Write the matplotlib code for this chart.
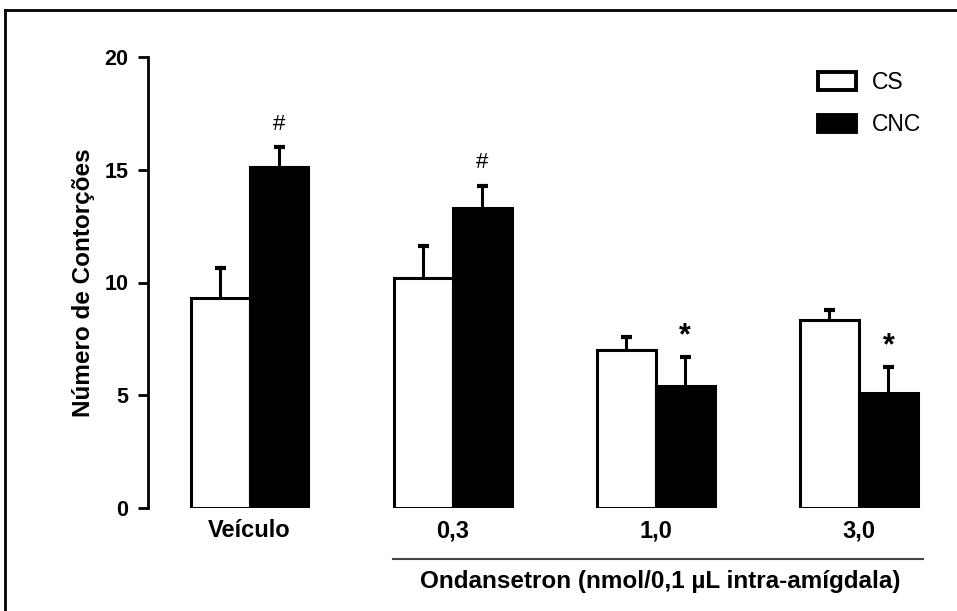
import numpy as np
import matplotlib.pyplot as plt
from matplotlib.lines import Line2D
from matplotlib.patches import Patch

plt.rcParams['font.family'] = ['Liberation Sans', 'DejaVu Sans']

groups = ['Veículo', '0,3', '1,0', '3,0']
cs_mean = np.array([9.3, 10.2, 7.0, 8.35])
cs_err = np.array([1.35, 1.4, 0.6, 0.45])
cnc_mean = np.array([15.1, 13.3, 5.4, 5.1])
cnc_err = np.array([0.9, 1.0, 1.3, 1.15])
cnc_marks = ['#', '#', '*', '*']

W = 0.29
CAP = 0.027
x = np.arange(len(groups))

fig = plt.figure(figsize=(9.57, 6.11), dpi=100)
ax = fig.add_axes([148/957, 1-508/611, (945-148)/957, (508-57)/611])

ax.bar(x - W/2, cs_mean, W, color='white', edgecolor='black', lw=2.2, zorder=2)
ax.bar(x + W/2, cnc_mean, W, color='black', edgecolor='black', lw=2.2, zorder=2)
# upper error bars only
for xc, m, e in [(x - W/2, cs_mean, cs_err), (x + W/2, cnc_mean, cnc_err)]:
    ax.vlines(xc, m, m + e, color='black', lw=2.2, zorder=1)
    ax.hlines(m + e, xc - CAP, xc + CAP, color='black', lw=3, zorder=1)

for i, m in enumerate(cnc_marks):
    top = cnc_mean[i] + cnc_err[i]
    if m == '#':
        ax.text(x[i] + W/2, top + 0.55, m, ha='center', va='bottom', fontsize=16)
    else:
        ax.text(x[i] + W/2, top + 0.25, m, ha='center', va='bottom', fontsize=22, fontweight='bold')

ax.set_xlim(-0.5, (945-250)/203)
ax.set_ylim(0, 20)
ax.set_yticks([0, 5, 10, 15, 20])
ax.set_xticks(x)
ax.set_xticklabels(groups, fontsize=17, fontweight='bold')
ax.tick_params(axis='x', length=0, pad=8)
ax.tick_params(axis='y', length=7, width=2, labelsize=15.5, pad=7)
for lbl in ax.get_yticklabels():
    lbl.set_fontweight('bold')
for s in ['top', 'right', 'bottom']:
    ax.spines[s].set_visible(False)
ax.spines['left'].set_linewidth(2)
ax.set_ylabel('Número de Contorções', fontsize=17.5, fontweight='bold', labelpad=7)

# underline for ondansetron doses
ax.plot([x[1] - W - 0.005, x[3] + W + 0.025], [-2.25, -2.25], color='#444444', lw=1.5, clip_on=False)
ax.text((x[1] + x[3]) / 2 + 0.02, -3.25, 'Ondansetron (nmol/0,1 µL intra-amígdala)',
        ha='center', va='center', fontsize=17.5, fontweight='bold', clip_on=False)

handles = [Patch(facecolor='white', edgecolor='black', lw=2.8), Patch(facecolor='black', edgecolor='black', lw=2.8)]
ax.legend(handles, ['CS', 'CNC'], loc='upper right', bbox_to_anchor=(0.99, 1.005), frameon=False,
          fontsize=16.5, handlelength=1.65, handleheight=0.8, handletextpad=0.7, labelspacing=0.85,
          borderaxespad=0.3)

# figure border (top and left visible)
fig.add_artist(Line2D([5/957, 1.0], [1-10/611, 1-10/611], color='black', lw=2, transform=fig.transFigure))
fig.add_artist(Line2D([5/957, 5/957], [0, 1-10/611], color='black', lw=2, transform=fig.transFigure))

fig.savefig('out.png', dpi=100)
